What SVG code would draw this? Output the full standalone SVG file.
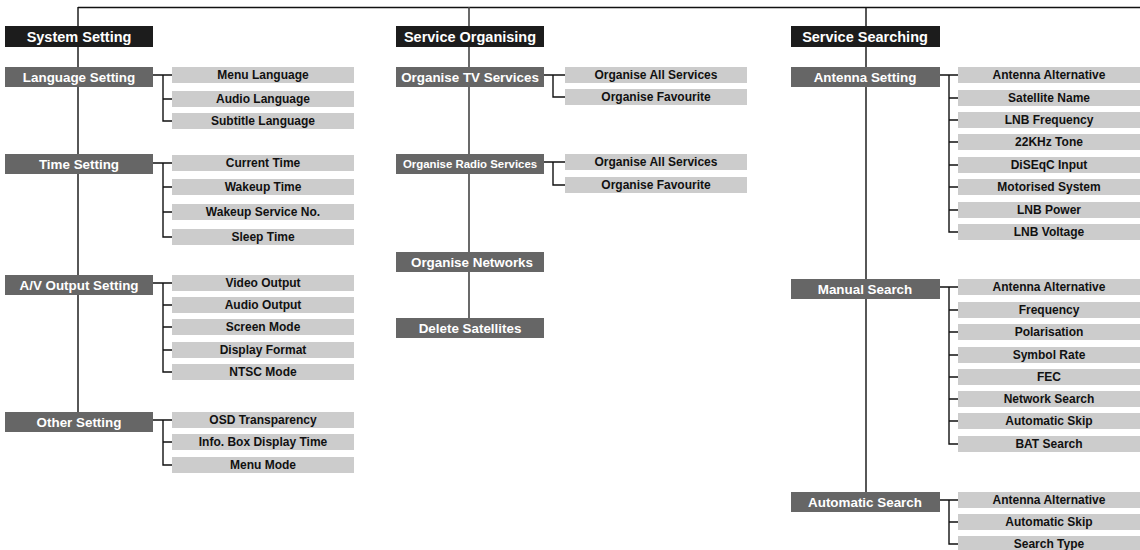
<svg xmlns="http://www.w3.org/2000/svg" width="1140" height="550" viewBox="0 0 1140 550">
<style>
.top{fill:#1c1c1c}
.mid{fill:#666666}
.leaf{fill:#cccccc}
.tt{font-family:"Liberation Sans",Arial,sans-serif;font-weight:bold;font-size:14.5px;fill:#ffffff;text-anchor:middle}
.mt{font-family:"Liberation Sans",Arial,sans-serif;font-weight:bold;font-size:13.4px;fill:#ffffff;text-anchor:middle}
.lt{font-family:"Liberation Sans",Arial,sans-serif;font-weight:bold;font-size:12px;fill:#111111;text-anchor:middle}
.ln{stroke:#111111;stroke-width:1.4;fill:none}
.ln2{stroke:#444444;stroke-width:1.6;fill:none}
</style>
<rect width="1140" height="550" fill="#ffffff"/>
<g id="connectors">
<path class="ln" d="M78,7.5 H1140 M78,7 V412 M866,7 V492"/>
<path class="ln2" d="M469,7 V318"/>
<!-- col1 -->
<path class="ln" d="M153,75 H172 M163,75 V121 H172 M163,99 H172"/>
<path class="ln" d="M153,163 H172 M163,163 V237 H172 M163,187 H172 M163,212 H172"/>
<path class="ln" d="M153,283 H172 M163,283 V372 H172 M163,305 H172 M163,327 H172 M163,350 H172"/>
<path class="ln" d="M153,420 H172 M163,420 V465 H172 M163,442 H172"/>
<!-- col2 -->
<path class="ln" d="M544,75 H565 M553,75 V97 H565"/>
<path class="ln" d="M544,162 H565 M553,162 V185 H565"/>
<!-- col3 -->
<path class="ln" d="M940,75 H958 M949,75 V232 H958 M949,98 H958 M949,120 H958 M949,142 H958 M949,165 H958 M949,187 H958 M949,210 H958"/>
<path class="ln" d="M940,287 H958 M949,287 V444 H958 M949,310 H958 M949,332 H958 M949,355 H958 M949,377 H958 M949,399 H958 M949,421 H958"/>
<path class="ln" d="M940,500 H958 M949,500 V544 H958 M949,522 H958"/>
</g>

<!-- Column 1 -->
<g id="system-setting"><rect class="top" x="5" y="26" width="148" height="21"/><text class="tt" x="79" y="41.5">System Setting</text></g>
<g id="language-setting"><rect class="mid" x="5" y="67" width="148" height="20"/><text class="mt" x="79" y="81.8">Language Setting</text></g>
<g id="menu-language"><rect class="leaf" x="172" y="67" width="182" height="16"/><text class="lt" x="263" y="79.3">Menu Language</text></g>
<g id="audio-language"><rect class="leaf" x="172" y="91" width="182" height="16"/><text class="lt" x="263" y="103.3">Audio Language</text></g>
<g id="subtitle-language"><rect class="leaf" x="172" y="113" width="182" height="16"/><text class="lt" x="263" y="125.3">Subtitle Language</text></g>

<g id="time-setting"><rect class="mid" x="5" y="154" width="148" height="20"/><text class="mt" x="79" y="168.8">Time Setting</text></g>
<g id="current-time"><rect class="leaf" x="172" y="155" width="182" height="16"/><text class="lt" x="263" y="167.3">Current Time</text></g>
<g id="wakeup-time"><rect class="leaf" x="172" y="179" width="182" height="16"/><text class="lt" x="263" y="191.3">Wakeup Time</text></g>
<g id="wakeup-service"><rect class="leaf" x="172" y="204" width="182" height="16"/><text class="lt" x="263" y="216.3">Wakeup Service No.</text></g>
<g id="sleep-time"><rect class="leaf" x="172" y="229" width="182" height="16"/><text class="lt" x="263" y="241.3">Sleep Time</text></g>

<g id="av-output-setting"><rect class="mid" x="5" y="275" width="148" height="20"/><text class="mt" x="79" y="289.8">A/V Output Setting</text></g>
<g id="video-output"><rect class="leaf" x="172" y="275" width="182" height="16"/><text class="lt" x="263" y="287.3">Video Output</text></g>
<g id="audio-output"><rect class="leaf" x="172" y="297" width="182" height="16"/><text class="lt" x="263" y="309.3">Audio Output</text></g>
<g id="screen-mode"><rect class="leaf" x="172" y="319" width="182" height="16"/><text class="lt" x="263" y="331.3">Screen Mode</text></g>
<g id="display-format"><rect class="leaf" x="172" y="342" width="182" height="16"/><text class="lt" x="263" y="354.3">Display Format</text></g>
<g id="ntsc-mode"><rect class="leaf" x="172" y="364" width="182" height="16"/><text class="lt" x="263" y="376.3">NTSC Mode</text></g>

<g id="other-setting"><rect class="mid" x="5" y="412" width="148" height="20"/><text class="mt" x="79" y="426.8">Other Setting</text></g>
<g id="osd-transparency"><rect class="leaf" x="172" y="412" width="182" height="16"/><text class="lt" x="263" y="424.3">OSD Transparency</text></g>
<g id="info-box"><rect class="leaf" x="172" y="434" width="182" height="16"/><text class="lt" x="263" y="446.3">Info. Box Display Time</text></g>
<g id="menu-mode"><rect class="leaf" x="172" y="457" width="182" height="16"/><text class="lt" x="263" y="469.3">Menu Mode</text></g>

<!-- Column 2 -->
<g id="service-organising"><rect class="top" x="396" y="26" width="148" height="21"/><text class="tt" x="470" y="41.5">Service Organising</text></g>
<g id="organise-tv"><rect class="mid" x="396" y="67" width="148" height="20"/><text class="mt" x="470" y="81.8">Organise TV Services</text></g>
<g id="tv-all"><rect class="leaf" x="565" y="67" width="182" height="16"/><text class="lt" x="656" y="79.3">Organise All Services</text></g>
<g id="tv-fav"><rect class="leaf" x="565" y="89" width="182" height="16"/><text class="lt" x="656" y="101.3">Organise Favourite</text></g>
<g id="organise-radio"><rect class="mid" x="396" y="154" width="148" height="20"/><text class="mt" x="470" y="168.3" style="font-size:11.4px">Organise Radio Services</text></g>
<g id="radio-all"><rect class="leaf" x="565" y="154" width="182" height="16"/><text class="lt" x="656" y="166.3">Organise All Services</text></g>
<g id="radio-fav"><rect class="leaf" x="565" y="177" width="182" height="16"/><text class="lt" x="656" y="189.3">Organise Favourite</text></g>
<g id="organise-networks"><rect class="mid" x="396" y="252" width="148" height="20"/><text class="mt" x="472" y="266.8">Organise Networks</text></g>
<g id="delete-satellites"><rect class="mid" x="396" y="318" width="148" height="20"/><text class="mt" x="470" y="332.8">Delete Satellites</text></g>

<!-- Column 3 -->
<g id="service-searching"><rect class="top" x="791" y="26" width="149" height="21"/><text class="tt" x="865" y="41.5">Service Searching</text></g>
<g id="antenna-setting"><rect class="mid" x="791" y="67" width="149" height="20"/><text class="mt" x="865" y="81.8">Antenna Setting</text></g>
<g id="as-antenna-alt"><rect class="leaf" x="958" y="67" width="182" height="16"/><text class="lt" x="1049" y="79.3">Antenna Alternative</text></g>
<g id="as-satellite-name"><rect class="leaf" x="958" y="90" width="182" height="16"/><text class="lt" x="1049" y="102.3">Satellite Name</text></g>
<g id="as-lnb-frequency"><rect class="leaf" x="958" y="112" width="182" height="16"/><text class="lt" x="1049" y="124.3">LNB Frequency</text></g>
<g id="as-22khz"><rect class="leaf" x="958" y="134" width="182" height="16"/><text class="lt" x="1049" y="146.3">22KHz Tone</text></g>
<g id="as-diseqc"><rect class="leaf" x="958" y="157" width="182" height="16"/><text class="lt" x="1049" y="169.3">DiSEqC Input</text></g>
<g id="as-motorised"><rect class="leaf" x="958" y="179" width="182" height="16"/><text class="lt" x="1049" y="191.3">Motorised System</text></g>
<g id="as-lnb-power"><rect class="leaf" x="958" y="202" width="182" height="16"/><text class="lt" x="1049" y="214.3">LNB Power</text></g>
<g id="as-lnb-voltage"><rect class="leaf" x="958" y="224" width="182" height="16"/><text class="lt" x="1049" y="236.3">LNB Voltage</text></g>

<g id="manual-search"><rect class="mid" x="791" y="279" width="149" height="20"/><text class="mt" x="865" y="293.8">Manual Search</text></g>
<g id="ms-antenna-alt"><rect class="leaf" x="958" y="279" width="182" height="16"/><text class="lt" x="1049" y="291.3">Antenna Alternative</text></g>
<g id="ms-frequency"><rect class="leaf" x="958" y="302" width="182" height="16"/><text class="lt" x="1049" y="314.3">Frequency</text></g>
<g id="ms-polarisation"><rect class="leaf" x="958" y="324" width="182" height="16"/><text class="lt" x="1049" y="336.3">Polarisation</text></g>
<g id="ms-symbol-rate"><rect class="leaf" x="958" y="347" width="182" height="16"/><text class="lt" x="1049" y="359.3">Symbol Rate</text></g>
<g id="ms-fec"><rect class="leaf" x="958" y="369" width="182" height="16"/><text class="lt" x="1049" y="381.3">FEC</text></g>
<g id="ms-network-search"><rect class="leaf" x="958" y="391" width="182" height="16"/><text class="lt" x="1049" y="403.3">Network Search</text></g>
<g id="ms-automatic-skip"><rect class="leaf" x="958" y="413" width="182" height="16"/><text class="lt" x="1049" y="425.3">Automatic Skip</text></g>
<g id="ms-bat-search"><rect class="leaf" x="958" y="436" width="182" height="16"/><text class="lt" x="1049" y="448.3">BAT Search</text></g>

<g id="automatic-search"><rect class="mid" x="791" y="492" width="149" height="20"/><text class="mt" x="865" y="506.8">Automatic Search</text></g>
<g id="au-antenna-alt"><rect class="leaf" x="958" y="492" width="182" height="16"/><text class="lt" x="1049" y="504.3">Antenna Alternative</text></g>
<g id="au-automatic-skip"><rect class="leaf" x="958" y="514" width="182" height="16"/><text class="lt" x="1049" y="526.3">Automatic Skip</text></g>
<g id="au-search-type"><rect class="leaf" x="958" y="536" width="182" height="16"/><text class="lt" x="1049" y="548.3">Search Type</text></g>
</svg>
